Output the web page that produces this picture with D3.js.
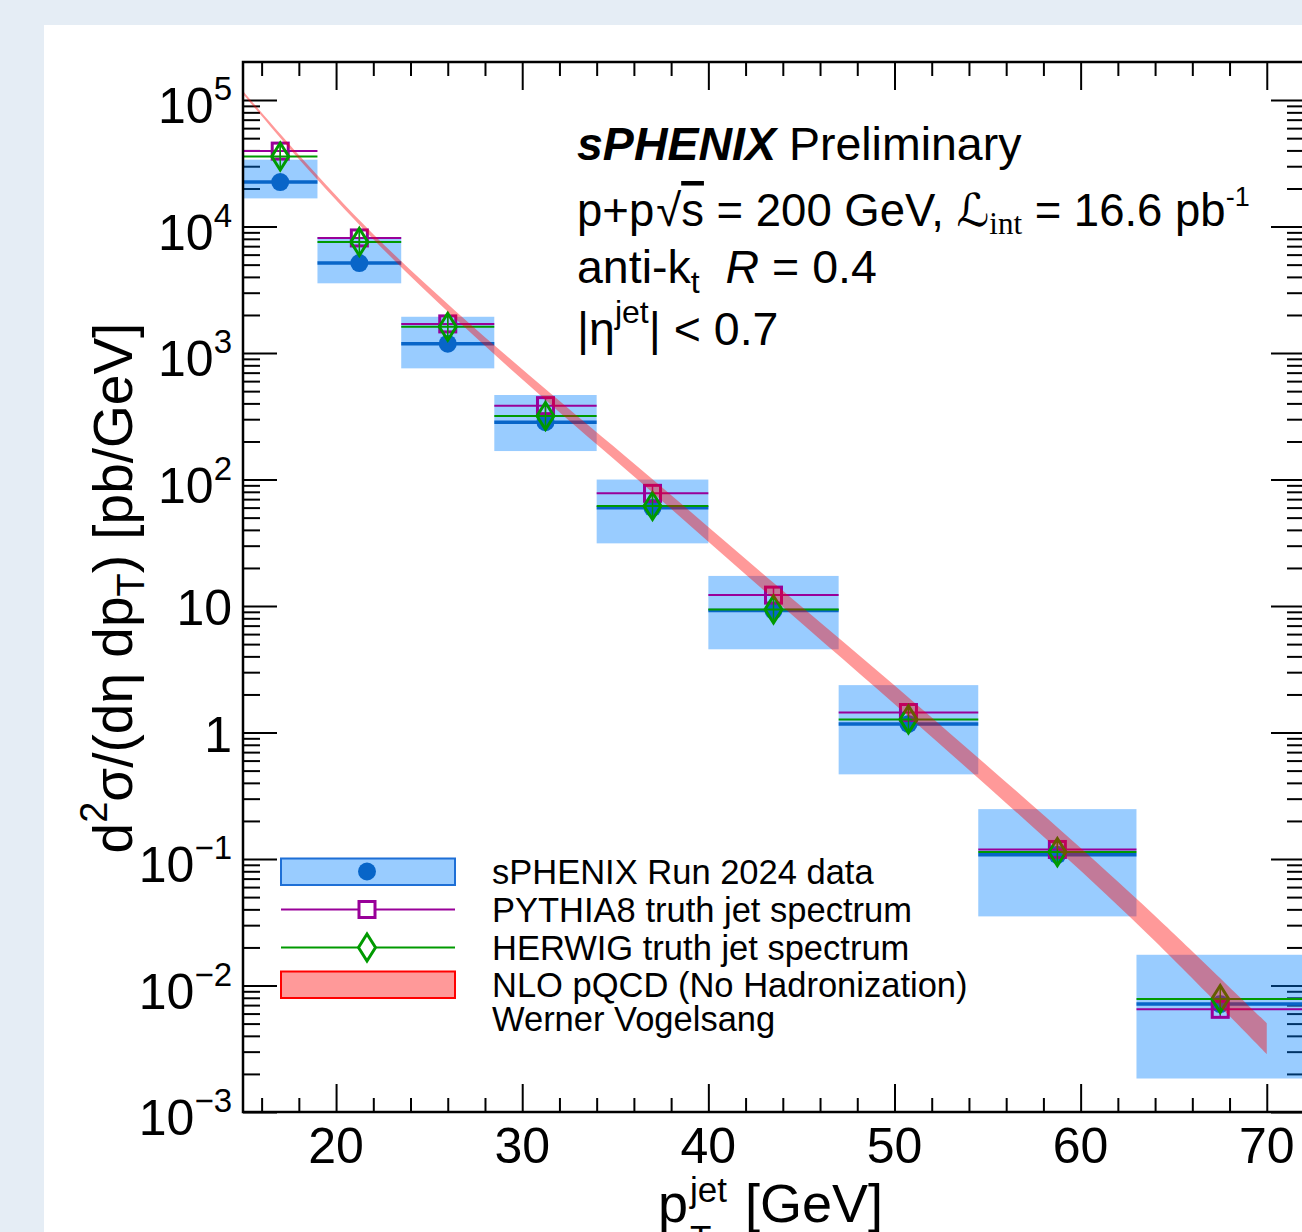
<!DOCTYPE html>
<html><head><meta charset="utf-8">
<script src="https://cdn.jsdelivr.net/npm/d3@7"></script>
<style>
body{margin:0;background:#e5edf5;overflow:hidden}
text{font-family:"Liberation Sans",Arial,Helvetica,sans-serif;fill:#000}
</style>
</head><body><svg id="c" width="1302" height="1232"></svg>
<script>
// ---------------- data ----------------
const binEdges   = [15, 19, 23.5, 28.5, 34, 40, 47, 54.5, 63, 72];
const binCenters = [17, 21.25, 26, 31.25, 37, 43.5, 50.75, 58.75, 67.5];
const dataVals   = [22500, 5150, 1185, 284, 59.8, 9.2, 1.17, 0.108, 0.00714];
const sysLow     = [16700, 3560, 757, 168, 31.3, 4.55, 0.467, 0.0352, 0.00184];
const sysHigh    = [33800, 8260, 1936, 466, 100, 17.3, 2.37, 0.248, 0.0175];
const pythiaVals = [39500, 8130, 1700, 384, 77.8, 12.2, 1.44, 0.119, 0.00648];
const herwigVals = [35800, 7560, 1614, 318, 61.8, 9.4, 1.27, 0.1135, 0.00782];
const nloPt      = [15, 18, 22, 26.5, 31.5, 37, 43.5, 51, 58.7, 64, 70];
const nloLow     = [111700, 34200, 7940, 1813, 395, 78.9, 11.40, 1.244, 0.1211, 0.0224, 0.00287];
const nloHigh    = [118000, 36800, 8710, 2097, 482.6, 100.7, 15.25, 1.758, 0.1807, 0.0355, 0.00504];

const xMajorTicks = [20, 30, 40, 50, 60, 70];
const xTickLabels = ["20", "30", "40", "50", "60", "70"];
const yMajorTicks = [1e-3, 1e-2, 1e-1, 1, 10, 100, 1e3, 1e4, 1e5];
const yTickBase   = ["10", "10", "10", "1", "10", "10", "10", "10", "10"];
const yTickExp    = ["\u22123", "\u22122", "\u22121", "", "", "2", "3", "4", "5"];

const legendLabels = ["sPHENIX Run 2024 data", "PYTHIA8 truth jet spectrum",
  "HERWIG truth jet spectrum", "NLO pQCD (No Hadronization)", "Werner Vogelsang"];

// ---------------- setup ----------------
const svg = d3.select("#c");
svg.append("rect").attr("width", 1302).attr("height", 1232).attr("fill", "#e5edf5");
svg.append("rect").attr("x", 44).attr("y", 25).attr("width", 1302 - 44).attr("height", 1232 - 25).attr("fill", "#fff");

const L = 243, R = 1304, T = 62, B = 1112;
const x = d3.scaleLinear().domain([15, 72]).range([L, R]);
const y = d3.scaleLog().domain([1e-3, 2e5]).range([B, T]);

svg.append("defs").append("clipPath").attr("id", "clip")
  .append("rect").attr("x", L).attr("y", T).attr("width", R - L).attr("height", B - T);

// ---------------- axes ticks ----------------
const yMinor = [];
for (let e = -3; e < 5; e++) for (let k = 2; k <= 9; k++) yMinor.push(k * Math.pow(10, e));
const xMinor = d3.range(16, 72, 2).filter(v => v % 10 !== 0);

function drawAxis(fn, scale, vals, size, tr) {
  const g = svg.append("g").attr("transform", tr)
    .call(fn(scale).tickValues(vals).tickSize(size).tickFormat(""));
  g.select(".domain").remove();
  g.selectAll("line").attr("stroke", "#000").attr("stroke-width", 2);
}
drawAxis(d3.axisRight, y, yMajorTicks, 34, `translate(${L},0)`);
drawAxis(d3.axisRight, y, yMinor, 17, `translate(${L},0)`);
drawAxis(d3.axisLeft, y, yMajorTicks, 33, `translate(${R},0)`);
drawAxis(d3.axisLeft, y, yMinor, 17, `translate(${R},0)`);
drawAxis(d3.axisTop, x, xMajorTicks, 28, `translate(0,${B})`);
drawAxis(d3.axisTop, x, xMinor, 14, `translate(0,${B})`);
drawAxis(d3.axisBottom, x, xMajorTicks, 28, `translate(0,${T})`);
drawAxis(d3.axisBottom, x, xMinor, 14, `translate(0,${T})`);

// ---------------- data ----------------
const idx = d3.range(binCenters.length);
const gD = svg.append("g").attr("clip-path", "url(#clip)");
const blueBox = "rgba(0,128,255,0.4)", blue = "#0865c8", purple = "#990099", green = "#009a00";

gD.selectAll("rect.sys").data(idx).join("rect").attr("class", "sys")
  .attr("x", i => x(binEdges[i])).attr("width", i => x(binEdges[i + 1]) - x(binEdges[i]))
  .attr("y", i => y(sysHigh[i])).attr("height", i => y(sysLow[i]) - y(sysHigh[i]))
  .attr("fill", blueBox);

// data
gD.selectAll("line.dat").data(idx).join("line")
  .attr("x1", i => x(binEdges[i])).attr("x2", i => x(binEdges[i + 1]))
  .attr("y1", i => y(dataVals[i])).attr("y2", i => y(dataVals[i]))
  .attr("stroke", blue).attr("stroke-width", 3.5);
gD.selectAll("circle.dat").data(idx).join("circle")
  .attr("cx", i => x(binCenters[i])).attr("cy", i => y(dataVals[i])).attr("r", 9)
  .attr("fill", blue);

// pythia
gD.selectAll("line.py").data(idx).join("line")
  .attr("x1", i => x(binEdges[i])).attr("x2", i => x(binEdges[i + 1]))
  .attr("y1", i => y(pythiaVals[i])).attr("y2", i => y(pythiaVals[i]))
  .attr("stroke", purple).attr("stroke-width", 2);
gD.selectAll("line.pyv").data(idx).join("line")
  .attr("x1", i => x(binCenters[i])).attr("x2", i => x(binCenters[i]))
  .attr("y1", i => y(pythiaVals[i]) - 8).attr("y2", i => y(pythiaVals[i]) + 8)
  .attr("stroke", purple).attr("stroke-width", 1.5);
gD.selectAll("rect.py").data(idx).join("rect")
  .attr("x", i => x(binCenters[i]) - 8).attr("y", i => y(pythiaVals[i]) - 8)
  .attr("width", 16).attr("height", 16)
  .attr("fill", "none").attr("stroke", purple).attr("stroke-width", 3);

// herwig
gD.selectAll("line.hw").data(idx).join("line")
  .attr("x1", i => x(binEdges[i])).attr("x2", i => x(binEdges[i + 1]))
  .attr("y1", i => y(herwigVals[i])).attr("y2", i => y(herwigVals[i]))
  .attr("stroke", green).attr("stroke-width", 2);
gD.selectAll("line.hwv").data(idx).join("line")
  .attr("x1", i => x(binCenters[i])).attr("x2", i => x(binCenters[i]))
  .attr("y1", i => y(herwigVals[i]) - 12).attr("y2", i => y(herwigVals[i]) + 12)
  .attr("stroke", green).attr("stroke-width", 1.5);
const diamond = "M0,-13.5L8.5,0L0,13.5L-8.5,0Z";
gD.selectAll("path.hw").data(idx).join("path")
  .attr("transform", i => `translate(${x(binCenters[i])},${y(herwigVals[i])})`)
  .attr("d", diamond).attr("fill", "none").attr("stroke", green).attr("stroke-width", 3);

// NLO band
const band = d3.area().x(i => x(nloPt[i])).y0(i => y(nloLow[i])).y1(i => y(nloHigh[i]))
  .curve(d3.curveCatmullRom.alpha(0.5));
gD.append("path").attr("d", band(d3.range(nloPt.length)))
  .attr("fill", "rgba(255,0,0,0.4)");

// frame
svg.append("rect").attr("x", L).attr("y", T).attr("width", R - L).attr("height", B - T)
  .attr("fill", "none").attr("stroke", "#000").attr("stroke-width", 2.5);

// ---------------- text helper ----------------
function rich(parent, px, py, parts, attrs) {
  const t = parent.append("text").attr("x", px).attr("y", py);
  for (const k in (attrs || {})) t.attr(k, attrs[k]);
  parts.forEach(p => {
    const s = t.append("tspan").text(p.t);
    if (p.size) s.attr("font-size", p.size);
    if (p.dy) s.attr("dy", p.dy);
    if (p.dx) s.attr("dx", p.dx);
    if (p.style) s.attr("font-style", p.style);
    if (p.weight) s.attr("font-weight", p.weight);
    if (p.family) s.attr("font-family", p.family);
    if (p.deco) s.style("text-decoration", p.deco);
  });
  return t;
}

// y tick labels
yMajorTicks.forEach((v, i) => {
  const parts = [{ t: yTickBase[i] }];
  if (yTickExp[i]) parts.push({ t: yTickExp[i], size: 33, dy: -23 });
  rich(svg, 232, y(v) + (yTickExp[i] ? 23 : 19), parts, { "text-anchor": "end", "font-size": 50 });
});
// x tick labels
xMajorTicks.forEach((v, i) => {
  rich(svg, x(v), 1163, [{ t: xTickLabels[i] }], { "text-anchor": "middle", "font-size": 50 });
});

// axis titles
const gy = svg.append("g").attr("transform", "translate(132,588) rotate(-90)");
rich(gy, 0, 0, [{ t: "d" }, { t: "2", size: 38, dy: -25 }, { t: "\u03c3/(d\u03b7 dp", dy: 25 },
  { t: "T", size: 38, dy: 12 }, { t: ") [pb/GeV]", dy: -12 }], { "text-anchor": "middle", "font-size": 55 });

rich(svg, 658, 1222, [{ t: "p" }], { "font-size": 54 });
rich(svg, 690, 1202, [{ t: "jet" }], { "font-size": 35 });
rich(svg, 690, 1250, [{ t: "T" }], { "font-size": 35 });
rich(svg, 745, 1222, [{ t: "[GeV]" }], { "font-size": 54 });

// info text
const fs = 46.5;
rich(svg, 577, 160, [{ t: "sPHENIX", weight: "bold", style: "italic" }, { t: " Preliminary" }], { "font-size": fs });
rich(svg, 577, 226, [{ t: "p+p" }, { t: "\u221a", dx: 2 }, { t: "s", deco: "overline" },
  { t: " = 200 GeV, " }, { t: "\u2112", family: "DejaVu Serif, DejaVu Sans", style: "italic" },
  { t: "int", family: "Liberation Serif, serif", size: 31, dy: 8 }, { t: " = 16.6 pb", dy: -8 },
  { t: "-1", size: 27, dy: -20 }], { "font-size": 45.5 });
rich(svg, 577, 283, [{ t: "anti-k" }, { t: "t", size: 32, dy: 10 },
  { t: "R", style: "italic", dy: -10, dx: 26 }, { t: " = 0.4" }], { "font-size": fs });
rich(svg, 577, 345, [{ t: "|\u03b7" }, { t: "jet", size: 32, dy: -22 }, { t: "| < 0.7", dy: 22 }], { "font-size": fs });

// ---------------- legend ----------------
const lg = svg.append("g");
const lx0 = 281, lx1 = 455, lxc = 367;
const rowY = [871.5, 909.5, 947.5, 984.5, 1019];
lg.append("rect").attr("x", lx0).attr("y", rowY[0] - 13).attr("width", lx1 - lx0).attr("height", 26.5)
  .attr("fill", blueBox).attr("stroke", "#1e6fd6").attr("stroke-width", 2);
lg.append("circle").attr("cx", lxc).attr("cy", rowY[0]).attr("r", 9).attr("fill", blue);
lg.append("line").attr("x1", lx0).attr("x2", lx1).attr("y1", rowY[1]).attr("y2", rowY[1])
  .attr("stroke", purple).attr("stroke-width", 2);
lg.append("rect").attr("x", lxc - 8).attr("y", rowY[1] - 8).attr("width", 16).attr("height", 16)
  .attr("fill", "#fff").attr("stroke", purple).attr("stroke-width", 3);
lg.append("line").attr("x1", lx0).attr("x2", lx1).attr("y1", rowY[2]).attr("y2", rowY[2])
  .attr("stroke", green).attr("stroke-width", 2);
lg.append("path").attr("transform", `translate(${lxc},${rowY[2]})`).attr("d", diamond)
  .attr("fill", "#fff").attr("stroke", green).attr("stroke-width", 3);
lg.append("rect").attr("x", lx0).attr("y", rowY[3] - 13).attr("width", lx1 - lx0).attr("height", 26.5)
  .attr("fill", "rgba(255,0,0,0.4)").attr("stroke", "#ff0000").attr("stroke-width", 2);
legendLabels.forEach((s, i) => {
  rich(lg, 492, rowY[i] + 12, [{ t: s }], { "font-size": 34.5 });
});
</script>
</body></html>
